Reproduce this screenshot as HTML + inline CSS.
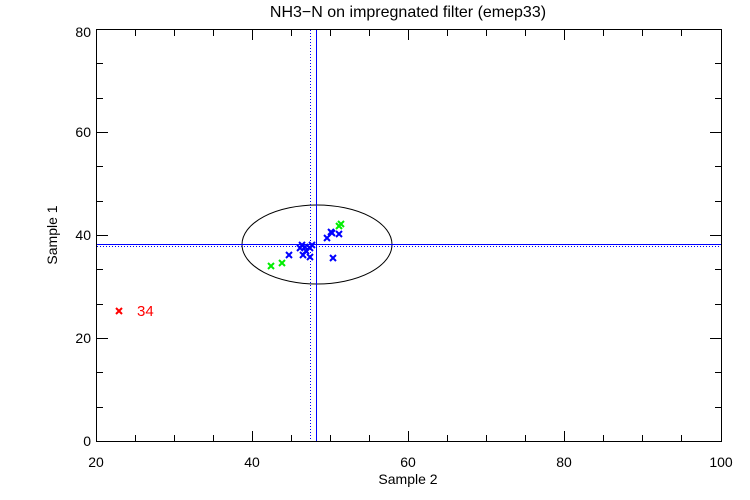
<!DOCTYPE html>
<html><head><style>body{margin:0;background:#fff}svg{display:block}text{font-family:"Liberation Sans",sans-serif;font-size:14px;fill:#000}</style></head><body>
<svg width="750" height="500" xmlns="http://www.w3.org/2000/svg">
<rect width="750" height="500" fill="#fff"/>
<g stroke="#000" stroke-width="1" fill="none">
<rect x="96.5" y="29.5" width="625" height="412"/>
<path d="M135.5 441v-6M174.5 441v-6M213.5 441v-6M252.5 441v-10M291.5 441v-6M330.5 441v-6M369.5 441v-6M408.5 441v-10M447.5 441v-6M486.5 441v-6M525.5 441v-6M564.5 441v-10M603.5 441v-6M642.5 441v-6M681.5 441v-6
M135.5 30v6M174.5 30v6M213.5 30v6M252.5 30v10M291.5 30v6M330.5 30v6M369.5 30v6M408.5 30v10M447.5 30v6M486.5 30v6M525.5 30v6M564.5 30v10M603.5 30v6M642.5 30v6M681.5 30v6"/>
<path d="M97 407.5h6M97 372.5h6M97 338.5h11M97 304.5h6M97 269.5h6M97 235.5h11M97 201.5h6M97 166.5h6M97 132.5h11M97 98.5h6M97 63.5h6
M721 407.5h-6M721 372.5h-6M721 338.5h-11M721 304.5h-6M721 269.5h-6M721 235.5h-11M721 201.5h-6M721 166.5h-6M721 132.5h-11M721 98.5h-6M721 63.5h-6"/>
<ellipse cx="317" cy="244.5" rx="75" ry="39.5"/>
</g>
<g stroke="#0000ff" stroke-width="1">
<line x1="316.5" y1="30" x2="316.5" y2="441"/>
<line x1="97" y1="244.5" x2="721" y2="244.5"/>
<line x1="310.5" y1="30" x2="310.5" y2="441" stroke-dasharray="1,2"/>
<line x1="97" y1="246.5" x2="721" y2="246.5" stroke-dasharray="1,2"/>
</g>
<defs><path id="x" d="M-3-3L3 3M-3 3L3-3" stroke-width="2" fill="none"/></defs>
<g stroke="#0000ff">
<use href="#x" x="289" y="255"/><use href="#x" x="333" y="258"/><use href="#x" x="327" y="238"/><use href="#x" x="331" y="232"/><use href="#x" x="332" y="233"/><use href="#x" x="339" y="234"/><use href="#x" x="302" y="245"/><use href="#x" x="305" y="247"/><use href="#x" x="310" y="248"/><use href="#x" x="303" y="255"/><use href="#x" x="310" y="257"/><use href="#x" x="300" y="248"/><use href="#x" x="312" y="245"/><use href="#x" x="306" y="251"/>
</g>
<g stroke="#00ee00">
<use href="#x" x="271" y="266"/><use href="#x" x="282" y="263"/><use href="#x" x="339" y="226"/><use href="#x" x="341" y="224"/>
</g>
<use href="#x" x="119" y="311" stroke="#ff0000"/>
<text x="137" y="316" style="fill:#f00;font-size:15px">34</text>
<text x="408" y="17" text-anchor="middle" style="font-size:16px">NH3−N on impregnated filter (emep33)</text>
<g text-anchor="middle"><text x="96" y="467">20</text><text x="252" y="467">40</text><text x="408" y="467">60</text><text x="564" y="467">80</text><text x="721" y="467">100</text><text x="408" y="484">Sample 2</text></g>
<g text-anchor="end"><text x="91" y="446">0</text><text x="91" y="343">20</text><text x="91" y="240">40</text><text x="91" y="137">60</text><text x="91" y="37">80</text></g>
<text transform="translate(57,235) rotate(-90)" text-anchor="middle">Sample 1</text>
</svg>
</body></html>
